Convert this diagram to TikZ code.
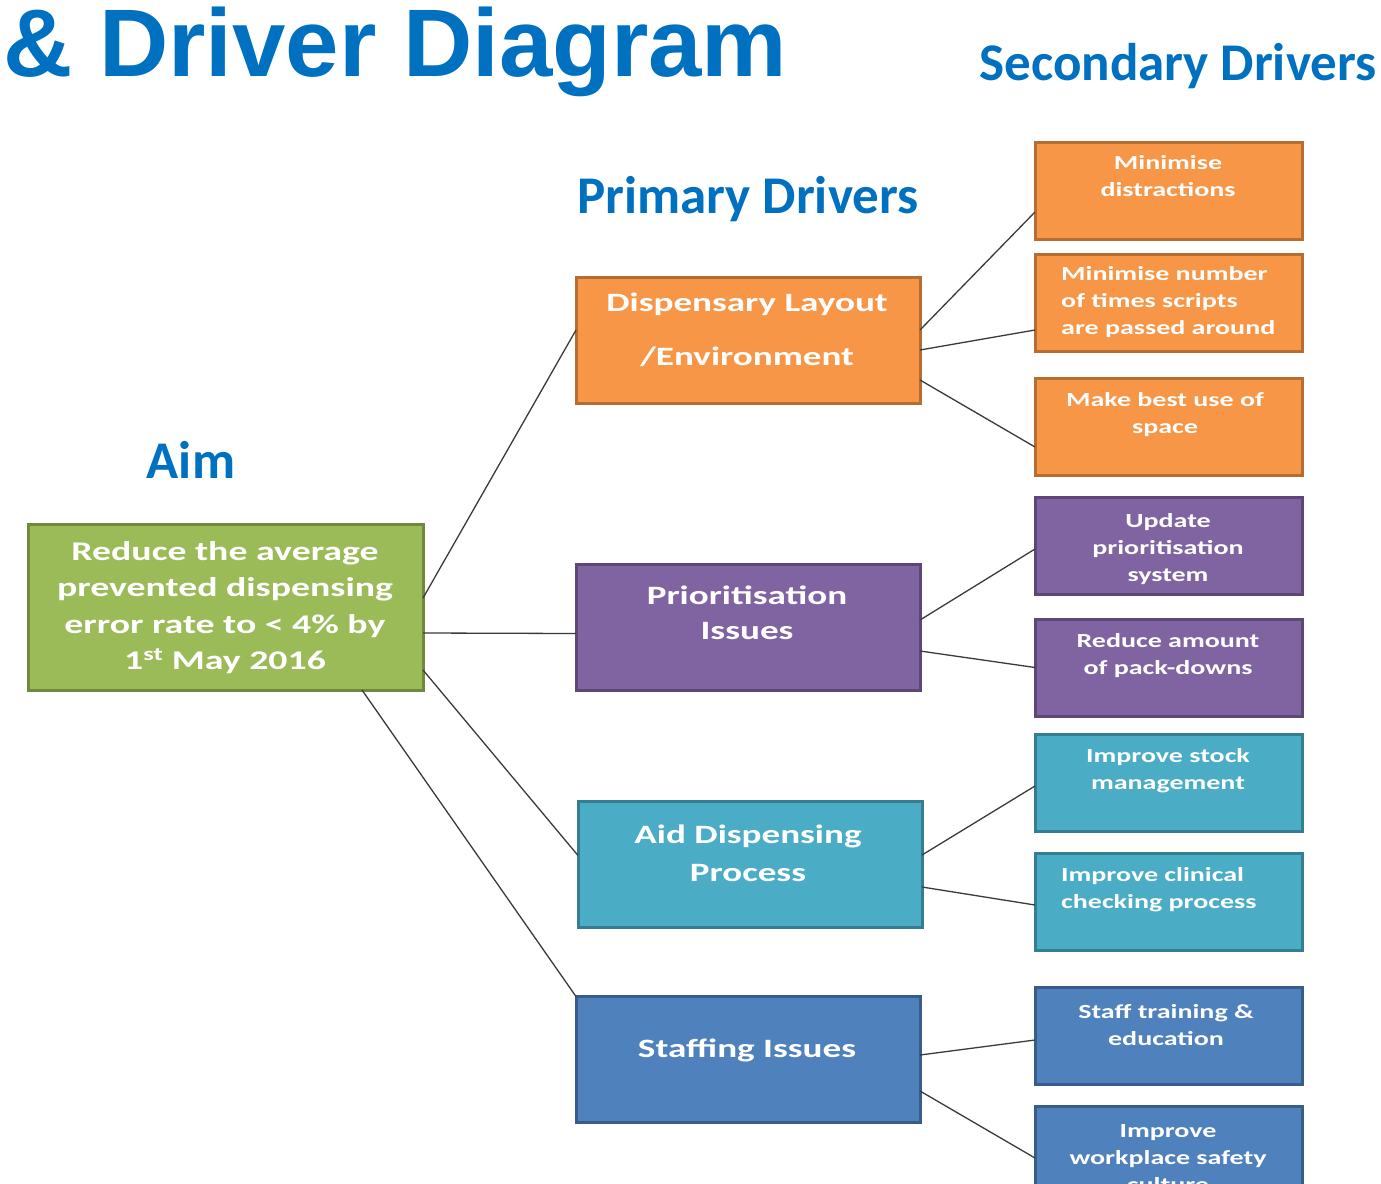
\documentclass[tikz,border=0pt]{standalone}
\usepackage{fontspec}
\setmainfont{Carlito}
\newfontfamily\titlefont{Liberation Sans}
\newfontfamily\headfont{Carlito}
\newfontfamily\boxfont{Carlito}[FakeStretch=1.4]
\definecolor{titleblue}{HTML}{0070C0}
\definecolor{gfill}{HTML}{9BBB59}\definecolor{gline}{HTML}{71893F}
\definecolor{ofill}{HTML}{F79646}\definecolor{oline}{HTML}{B66D31}
\definecolor{pfill}{HTML}{8064A2}\definecolor{pline}{HTML}{5C4776}
\definecolor{tfill}{HTML}{4BACC6}\definecolor{tline}{HTML}{357D91}
\definecolor{bfill}{HTML}{4F81BD}\definecolor{bline}{HTML}{385D8A}
\definecolor{conn}{HTML}{3A3A3A}
\tikzset{
  boxshape/.style={rectangle, line width=3pt, inner sep=0pt, outer sep=0pt},
  pbox/.style={boxshape, minimum width=344pt, minimum height=126pt},
  sbox/.style={boxshape, minimum width=267pt, minimum height=97pt},
  gbox/.style={fill=gfill, draw=gline},
  obox/.style={fill=ofill, draw=oline},
  ubox/.style={fill=pfill, draw=pline},
  tbox/.style={fill=tfill, draw=tline},
  bbox/.style={fill=bfill, draw=bline},
  head/.style={font=\headfont\bfseries\fontsize{53}{53}\selectfont, text=titleblue, inner sep=0pt, anchor=base},
  atxt/.style={font=\boxfont\bfseries\fontsize{27}{36.5}\selectfont, text=white, align=center, inner sep=0pt},
  ptxt/.style={font=\boxfont\bfseries\fontsize{26.5}{#1}\selectfont, text=white, align=center, inner sep=0pt},
  stxt/.style={font=\boxfont\bfseries\fontsize{20}{27}\selectfont, text=white, align=center, inner sep=0pt},
  sltxt/.style={font=\boxfont\bfseries\fontsize{20}{27}\selectfont, text=white, align=left, inner sep=0pt},
  link/.style={draw=conn, line width=1.3pt}
}
\begin{document}
\begin{tikzpicture}[x=1pt,y=-1pt]
\useasboundingbox (0,0) rectangle (1381,1183);
% titles
\node[anchor=base west, font=\titlefont\bfseries\fontsize{96}{96}\selectfont, text=titleblue, inner sep=0pt] (title) at (3,76) {\& Driver Diagram};
\node[head] (sech) at (1178,80) {Secondary Drivers};
\node[head] (primh) at (748,213) {Primary Drivers};
\node[head] (aimh) at (191,478) {Aim};
% aim
\node[boxshape, gbox, minimum width=395pt, minimum height=166pt] (aim) at (225.5,607) {};
\node[atxt] (aimt) at (225,607.5) {Reduce the average\\prevented dispensing\\error rate to < 4\% by\\1\textsuperscript{st} May 2016};
% primary
\node[pbox, obox] (p1) at (748,340) {};
\node[ptxt=54] (p1t) at (747,330) {Dispensary Layout\\/Environment};
\node[pbox, ubox] (p2) at (748,627.5) {};
\node[ptxt=35] (p2t) at (747,613) {Prioritisation\\Issues};
\node[pbox, tbox] (p3) at (750,864.5) {};
\node[ptxt=38] (p3t) at (748,853) {Aid Dispensing\\Process};
\node[pbox, bbox] (p4) at (748,1059.5) {};
\node[ptxt=30] (p4t) at (747,1050) {Staffing Issues};
% secondary
\node[sbox, obox] (s1) at (1168.5,190.5) {};
\node[stxt] (s1t) at (1168,176.5) {Minimise\\distractions};
\node[sbox, obox] (s2) at (1168.5,302.5) {};
\node[sltxt, anchor=west] (s2t) at (1061,302.5) {Minimise number\\of times scripts\\are passed around};
\node[sbox, obox] (s3) at (1168.5,427) {};
\node[stxt] (s3t) at (1165,415) {Make best use of\\space};
\node[sbox, ubox] (s4) at (1168.5,545.5) {};
\node[stxt] (s4t) at (1168,549) {Update\\prioritisation\\system};
\node[sbox, ubox] (s5) at (1168.5,667.5) {};
\node[stxt] (s5t) at (1168,656) {Reduce amount\\of pack-downs};
\node[sbox, tbox] (s6) at (1168.5,782.5) {};
\node[stxt] (s6t) at (1168,771) {Improve stock\\management};
\node[sbox, tbox] (s7) at (1168.5,901.5) {};
\node[sltxt, anchor=west] (s7t) at (1061,890) {Improve clinical\\checking process};
\node[sbox, bbox] (s8) at (1168.5,1035.5) {};
\node[stxt] (s8t) at (1166,1025) {Staff training \&\\education};
\node[sbox, bbox] (s9) at (1168.5,1154.5) {};
\node[stxt] (s9t) at (1168,1158) {Improve\\workplace safety\\culture};
% connectors
\draw[link] ([yshift=9pt]aim.east) -- ([yshift=10pt]p1.west);
\draw[link] ([yshift=-26pt]aim.east) -- ([yshift=-6pt]p2.west);
\draw[link] ([yshift=-63pt]aim.east) -- ([yshift=9pt]p3.west);
\draw[link] ([xshift=-61pt]aim.south east) -- (p4.north west);
\draw[link] ([yshift=10pt]p1.east) -- ([yshift=-21.5pt]s1.west);
\draw[link] ([yshift=-10pt]p1.east) -- ([yshift=-27.5pt]s2.west);
\draw[link] ([yshift=-40pt]p1.east) -- ([yshift=-20pt]s3.west);
\draw[link] ([yshift=7.5pt]p2.east) -- ([yshift=-3.5pt]s4.west);
\draw[link] ([yshift=-23.5pt]p2.east) -- (s5.west);
\draw[link] ([yshift=9.5pt]p3.east) -- ([yshift=-3.5pt]s6.west);
\draw[link] ([yshift=-22.5pt]p3.east) -- ([yshift=-3.5pt]s7.west);
\draw[link] ([yshift=4.5pt]p4.east) -- ([yshift=-4.5pt]s8.west);
\draw[link] ([yshift=-31.5pt]p4.east) -- ([yshift=-3.5pt]s9.west);
\end{tikzpicture}
\end{document}
